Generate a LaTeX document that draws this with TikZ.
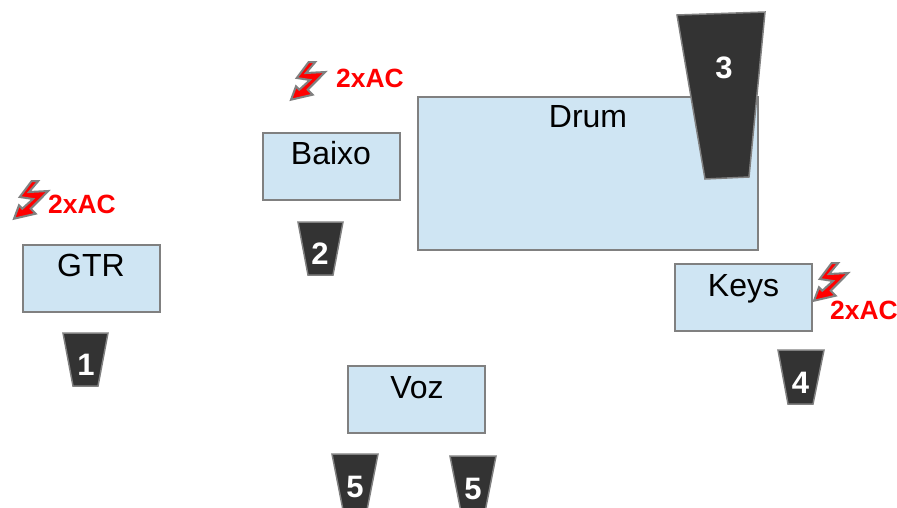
\documentclass[tikz,border=0pt]{standalone}
\usepackage{fontspec}
\setmainfont{Liberation Sans}
\definecolor{boxfill}{HTML}{CFE5F3}
\definecolor{edgegray}{HTML}{808080}
\definecolor{wedgefill}{HTML}{333333}
\tikzset{
  x=1pt,y=-1pt,
  stagebox/.style={draw=edgegray,fill=boxfill,line width=1.5pt},
  boxlabel/.style={anchor=base,inner sep=0pt,text=black,font=\fontsize{32}{32}\selectfont},
  wedge/.style={draw=edgegray,fill=wedgefill,line width=1.5pt,line join=miter},
  wedgelabel/.style={anchor=base,inner sep=0pt,text=white,font=\fontsize{31}{31}\selectfont\bfseries},
  aclabel/.style={anchor=base west,inner sep=0pt,text=red,font=\fontsize{26.4}{26.4}\selectfont\bfseries},
  bolt/.pic={
    \draw[draw=edgegray,fill=red,line width=2pt,line join=miter]
      (35.3,12)--(28.7,12)--(16.7,28)--(30,30)--(19.3,39.7)--(16,36.3)--(11,49.7)--(32.7,44.7)--(27.7,39.7)--(45.3,22)--(26,23)--cycle;
  }
}
\begin{document}
\begin{tikzpicture}
\useasboundingbox (0,0) rectangle (897,507);
\clip (0,0) rectangle (897,507);
% stage boxes
\draw[stagebox] (418,97) rectangle (758,250);
\draw[stagebox] (263,133) rectangle (400,200);
\draw[stagebox] (23,245) rectangle (160,312);
\draw[stagebox] (675,264) rectangle (812,331);
\draw[stagebox] (348,366) rectangle (485,433);
\node[boxlabel] (drum) at (588,127) {Drum};
\node[boxlabel] (baixo) at (331,164) {Baixo};
\node[boxlabel] (gtr) at (91,276) {GTR};
\node[boxlabel] (keys) at (743.5,296) {Keys};
\node[boxlabel] (voz) at (417,398) {Voz};
% monitors
\draw[wedge] (677,15)--(765,12)--(749,177)--(705,179)--cycle;
\draw[wedge] (298,222)--(343,222)--(333,275)--(308,275)--cycle;
\draw[wedge] (63,333)--(108,333)--(98,386)--(73,386)--cycle;
\draw[wedge] (778,350)--(824,350)--(813,404)--(788,404)--cycle;
\draw[wedge] (332,454)--(378,454)--(367,510)--(343,510)--cycle;
\draw[wedge] (450,456)--(496,456)--(485,512)--(461,512)--cycle;
\node[wedgelabel] (m3) at (724,78) {3};
\node[wedgelabel] (m2) at (320,264) {2};
\node[wedgelabel] (m1) at (86,375) {1};
\node[wedgelabel] (m4) at (800.5,393) {4};
\node[wedgelabel] (m5a) at (355,497) {5};
\node[wedgelabel] (m5b) at (473,499) {5};
% power
\pic at (280,50) {bolt};
\pic at (3,169) {bolt};
\pic at (803,251) {bolt};
\node[aclabel] (ac1) at (336,87) {2xAC};
\node[aclabel] (ac2) at (48,213) {2xAC};
\node[aclabel] (ac3) at (830,319) {2xAC};
\end{tikzpicture}
\end{document}
